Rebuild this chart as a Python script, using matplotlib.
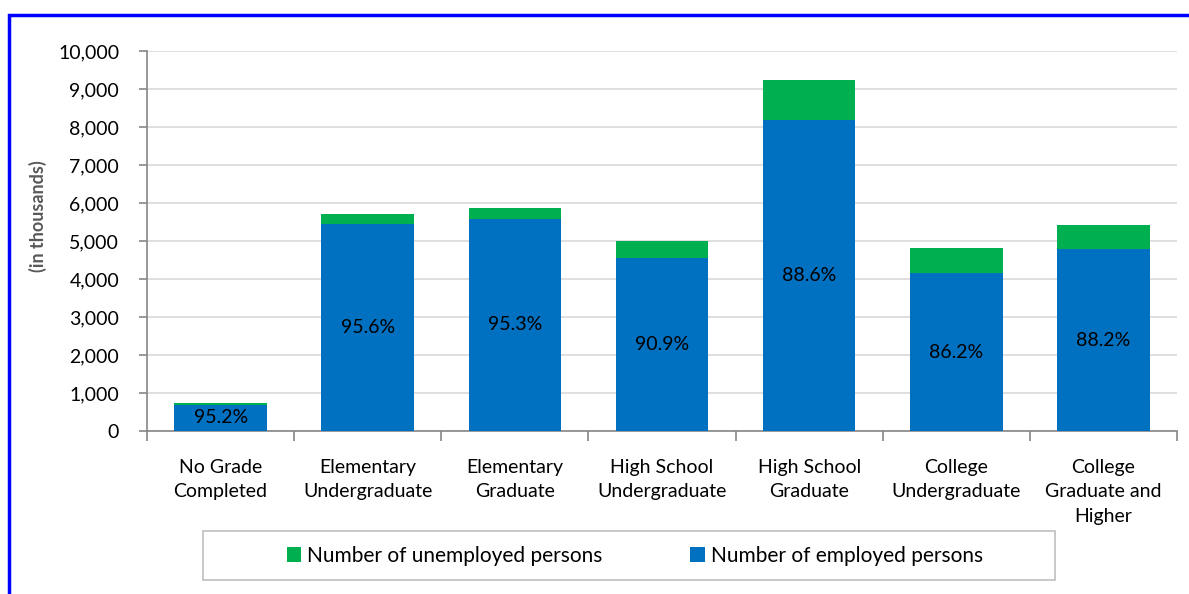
import numpy as np
import matplotlib.pyplot as plt
from matplotlib.patches import Rectangle
from matplotlib.ticker import FuncFormatter, MultipleLocator

plt.rcParams['font.family'] = ['Lato', 'DejaVu Sans']

categories = ['No Grade\nCompleted', 'Elementary\nUndergraduate', 'Elementary\nGraduate',
              'High School\nUndergraduate', 'High School\nGraduate', 'College\nUndergraduate',
              'College\nGraduate and\nHigher']
employed = [695, 5459, 5592, 4545, 8185, 4151, 4781]
unemployed = [35, 251, 276, 455, 1052, 665, 640]

BLUE = '#0070C0'
GREEN = '#00B050'
GRID = '#D9D9D9'
AXIS = '#868686'

fig = plt.figure(figsize=(11.89, 5.94), dpi=100)
ax = fig.add_axes([147 / 1189, 1 - 431 / 594, 1030 / 1189, 380 / 594])

x = np.arange(len(categories))
emp = np.array(employed)
unemp = np.array(unemployed)
ax.bar(x, emp, width=0.63, color=BLUE, zorder=3, label='Number of employed persons')
ax.bar(x, unemp, width=0.63, bottom=emp, color=GREEN, zorder=3,
       label='Number of unemployed persons')

# employment rate in the middle of each blue bar
for xi, e, u in zip(x, emp, unemp):
    ax.text(xi, e / 2, f'{e / (e + u) * 100:.1f}%', ha='center', va='center',
            fontsize=14, color='black', zorder=4)

ax.set_xlim(-0.5, len(categories) - 0.5)
ax.set_ylim(0, 10000)
ax.yaxis.set_major_locator(MultipleLocator(1000))
ax.yaxis.set_major_formatter(FuncFormatter(lambda v, p: f'{int(v):,}'))
ax.grid(axis='y', color=GRID, linewidth=1.2, zorder=0)

ax.set_xticks(x)
ax.set_xticklabels(categories, fontsize=14, linespacing=1.55)
ax.set_xticks(np.arange(len(categories) + 1) - 0.5, minor=True)
ax.tick_params(axis='x', which='major', length=0, pad=20)
ax.tick_params(axis='x', which='minor', length=7, color=AXIS, width=1.2)
ax.tick_params(axis='y', length=6, color=AXIS, width=1.2, labelsize=14, pad=14)

for s in ['top', 'right']:
    ax.spines[s].set_visible(False)
ax.spines['left'].set_color(AXIS)
ax.spines['bottom'].set_color(AXIS)
ax.spines['left'].set_linewidth(1.2)
ax.spines['bottom'].set_linewidth(1.2)

ax.set_ylabel('(in thousands)', fontsize=13, color='#595959', fontweight='bold')
ax.yaxis.set_label_coords(-0.097, 0.565)

# legend with a wide box drawn separately
fig.patches.append(Rectangle((203 / 1189, 1 - 580 / 594), 852 / 1189, 49 / 594,
                             transform=fig.transFigure, facecolor='white',
                             edgecolor='#BFBFBF', linewidth=1.2))
handles, labels = ax.get_legend_handles_labels()
fig.legend(handles[::-1], labels[::-1], loc='center', bbox_to_anchor=(635 / 1189, 1 - 556 / 594),
           ncol=2, frameon=False, fontsize=15, handlelength=0.7, handleheight=0.7,
           handletextpad=0.3, columnspacing=4.2)

# outer blue frame
fig.patches.append(Rectangle((9 / 1189, -0.2), 1.2, 1 - 15 / 594 + 0.2,
                             transform=fig.transFigure, fill=False,
                             edgecolor='#0000FF', linewidth=2.5))

fig.savefig('out.png', dpi=100)
